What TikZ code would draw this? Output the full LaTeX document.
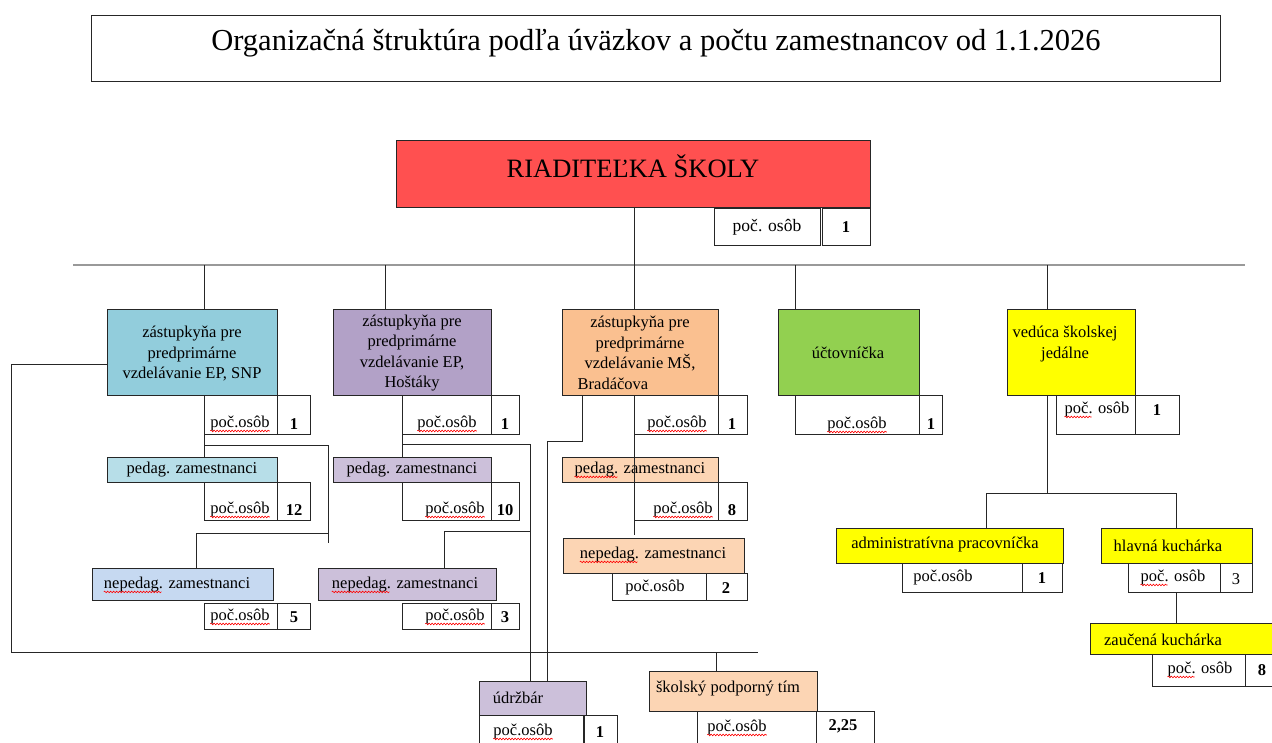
\documentclass[tikz,border=0pt]{standalone}
\usepackage{fontspec}
\setmainfont{Liberation Serif}
\usetikzlibrary{calc,decorations.pathmorphing}
\definecolor{cred}{RGB}{255,80,80}
\definecolor{cblue}{RGB}{146,205,220}
\definecolor{cblueL}{RGB}{183,222,232}
\definecolor{cblueN}{RGB}{198,217,241}
\definecolor{cpur}{RGB}{178,161,199}
\definecolor{cpurL}{RGB}{204,192,218}
\definecolor{cora}{RGB}{250,192,144}
\definecolor{coraL}{RGB}{252,213,180}
\definecolor{cgreen}{RGB}{146,208,80}
\definecolor{cyel}{RGB}{255,255,0}
\tikzset{
 bx/.style={draw=black!85, line width=0.9pt, inner sep=0pt, outer sep=0pt, anchor=north west},
 tx/.style={inner sep=0pt, font=\fontsize{16.5}{20.5}\selectfont, align=center},
 nm/.style={inner sep=0pt, font=\fontsize{16.5}{20}\selectfont\bfseries},
 ln/.style={draw=black!85, line width=0.9pt},
 bus/.style={draw=black!40, line width=1.6pt},
 spell/.style={draw=red, line width=0.6pt, decorate, decoration={snake, amplitude=0.8pt, segment length=3pt}},
}
\newcommand\bx[6]{\node[bx,fill=#6,minimum width=#4pt,minimum height=#5pt] (#1) at (#2,#3) {};}
\newcommand\spw[1]{\draw[spell] ($(#1.base west)+(0,3)$) -- ($(#1.base east)+(0,3)$);}
\newcommand\spp[2]{\draw[spell] ($(#1.base west)+(0,3)$) -- ($(#1.base west)+(#2,3)$);}
\begin{document}
\begin{tikzpicture}[x=1pt,y=-1pt]
\useasboundingbox (0,0) rectangle (1272,743);
\clip (0,0) rectangle (1272,743);
% title
\bx{title}{91}{15}{1129}{66}{white}
\node[inner sep=0pt, font=\fontsize{30.5}{32}\selectfont] (titlet) at (656,43) {Organizačná štruktúra podľa úväzkov a počtu zamestnancov od 1.1.2026};
% director
\bx{dir}{396}{140}{474}{67}{cred}
\node[inner sep=0pt, font=\fontsize{26.5}{28}\selectfont] (dirt) at (633,166) {RIADITEĽKA ŠKOLY};
\bx{dirP}{714}{208}{106}{37}{white}
\bx{dirN}{822}{208}{48}{37}{white}
\node[tx, font=\fontsize{17.5}{20}\selectfont] (dirPt) at (767,227) {poč. osôb};
\node[nm] (dirNt) at (846,227) {1};
% column 1
\bx{b1}{107}{309}{170}{86}{cblue}
\node[tx] (b1t) at (192,354) {zástupkyňa pre\\predprimárne\\vzdelávanie EP, SNP};
\bx{b1P}{204}{395}{73}{39}{white}
\bx{b1N}{277}{395}{33}{39}{white}
\node[tx] (b1Pt) at (240,424) {poč.osôb};
\node[nm] (b1Nt) at (294,424) {1};
\bx{p1}{107}{457}{170}{25}{cblueL}
\node[tx] (p1t) at (192,470) {pedag. zamestnanci};
\bx{p1P}{204}{482}{73}{38}{white}
\bx{p1N}{277}{482}{33}{38}{white}
\node[tx] (p1Pt) at (240,510) {poč.osôb};
\node[nm] (p1Nt) at (294,510) {12};
\bx{n1}{92}{568}{181}{32}{cblueN}
\node[tx] (n1t) at (177,585) {nepedag. zamestnanci};
\bx{n1P}{204}{603}{73}{26}{white}
\bx{n1N}{277}{603}{33}{26}{white}
\node[tx] (n1Pt) at (240,617) {poč.osôb};
\node[nm] (n1Nt) at (294,617) {5};
% column 2
\bx{b2}{333}{309}{158}{86}{cpur}
\node[tx] (b2t) at (412,353) {zástupkyňa pre\\predprimárne\\vzdelávanie EP,\\Hoštáky};
\bx{b2P}{402}{395}{89}{39}{white}
\bx{b2N}{491}{395}{28}{39}{white}
\node[tx] (b2Pt) at (447,424) {poč.osôb};
\node[nm] (b2Nt) at (505,424) {1};
\bx{p2}{333}{457}{158}{25}{cpurL}
\node[tx] (p2t) at (412,470) {pedag. zamestnanci};
\bx{p2P}{402}{482}{89}{38}{white}
\bx{p2N}{491}{482}{28}{38}{white}
\node[tx] (p2Pt) at (455,510) {poč.osôb};
\node[nm] (p2Nt) at (505,510) {10};
\bx{n2}{318}{568}{178}{32}{cpurL}
\node[tx] (n2t) at (405,585) {nepedag. zamestnanci};
\bx{n2P}{402}{603}{89}{26}{white}
\bx{n2N}{491}{603}{28}{26}{white}
\node[tx] (n2Pt) at (455,617) {poč.osôb};
\node[nm] (n2Nt) at (505,617) {3};
% column 3
\bx{b3}{562}{309}{156}{86}{cora}
\node[tx] (b3t) at (640,353) {zástupkyňa pre\\predprimárne\\vzdelávanie MŠ,\\Bradáčova\hspace*{54pt}};
\bx{b3P}{634}{395}{84}{39}{white}
\bx{b3N}{718}{395}{29}{39}{white}
\node[tx] (b3Pt) at (677,424) {poč.osôb};
\node[nm] (b3Nt) at (732,424) {1};
\bx{p3}{562}{457}{156}{25}{coraL}
\node[tx] (p3t) at (640,470) {pedag. zamestnanci};
\bx{p3P}{634}{482}{84}{38}{white}
\bx{p3N}{718}{482}{29}{38}{white}
\node[tx] (p3Pt) at (683,510) {poč.osôb};
\node[nm] (p3Nt) at (732,510) {8};
\bx{n3}{563}{538}{181}{35}{coraL}
\node[tx] (n3t) at (653,555) {nepedag. zamestnanci};
\bx{n3P}{612}{573}{94}{27}{white}
\bx{n3N}{706}{573}{41}{27}{white}
\node[tx] (n3Pt) at (655,588) {poč.osôb};
\node[nm] (n3Nt) at (726,588) {2};
% column 4
\bx{g}{778}{309}{141}{86}{cgreen}
\node[tx] (gt) at (848,353) {účtovníčka};
\bx{gP}{795}{395}{124}{39}{white}
\bx{gN}{919}{395}{23}{39}{white}
\node[tx] (gPt) at (857,425) {poč.osôb};
\node[nm] (gNt) at (931,424) {1};
% column 5
\bx{y}{1007}{309}{128}{86}{cyel}
\node[tx] (yt) at (1065,344) {vedúca školskej\\jedálne};
\bx{yP}{1056}{395}{79}{39}{white}
\bx{yN}{1135}{395}{44}{39}{white}
\node[tx] (yPt) at (1097,410) {poč. osôb};
\node[nm] (yNt) at (1157,410) {1};
\bx{a}{836}{528}{227}{35}{cyel}
\node[tx] (at) at (945,545) {administratívna pracovníčka};
\bx{aP}{902}{563}{120}{29}{white}
\bx{aN}{1022}{563}{40}{29}{white}
\node[tx] (aPt) at (943,578) {poč.osôb};
\node[nm] (aNt) at (1042,578) {1};
\bx{hk}{1101}{528}{151}{35}{cyel}
\node[tx] (hkt) at (1168,546) {hlavná kuchárka};
\bx{hkP}{1128}{563}{92}{29}{white}
\bx{hkN}{1220}{563}{32}{29}{white}
\node[tx] (hkPt) at (1173,578) {poč. osôb};
\node[tx] (hkNt) at (1236,579) {3};
\bx{zk}{1090}{623}{200}{31}{cyel}
\node[tx] (zkt) at (1163,640) {zaučená kuchárka};
\bx{zkP}{1152}{654}{93}{32}{white}
\bx{zkN}{1245}{654}{40}{32}{white}
\node[tx] (zkPt) at (1200,670) {poč. osôb};
\node[nm] (zkNt) at (1262,670) {8};
% bottom
\bx{u}{479}{681}{107}{34}{cpurL}
\node[tx] (ut) at (518,698) {údržbár};
\bx{uP}{479}{715}{104}{40}{white}
\bx{uN}{584}{715}{33}{40}{white}
\node[tx] (uPt) at (523,732) {poč.osôb};
\node[nm] (uNt) at (600,732) {1};
\bx{s}{649}{671}{168}{40}{coraL}
\node[tx] (st) at (728,689) {školský podporný tím};
\bx{sP}{697}{711}{119}{40}{white}
\bx{sN}{816}{711}{58}{40}{white}
\node[tx] (sPt) at (737,728) {poč.osôb};
\node[nm] (sNt) at (843,726) {2,25};
% spell-check underlines
\spw{b1Pt} \spw{p1Pt} \spw{n1Pt} \spw{b2Pt} \spw{p2Pt} \spw{n2Pt}
\spw{b3Pt} \spw{p3Pt} \spw{gPt} \spw{uPt} \spw{sPt}
\spp{n1t}{58} \spp{n2t}{58} \spp{n3t}{58} \spp{p3t}{43}
\spp{yPt}{27} \spp{hkPt}{27} \spp{zkPt}{27}
% coordinates
\coordinate (busW) at (73,265);
\coordinate (busE) at (1245,265);
\coordinate (x2) at (385,0);
\coordinate (x3) at (634,0);
\coordinate (x5) at (1047,0);
\coordinate (k1a) at (204,445);
\coordinate (k1b) at (328,543);
\coordinate (k1c) at (196,0);
\coordinate (k1d) at (328,533);
\coordinate (k1e) at (107,364);
\coordinate (k1f) at (11,652);
\coordinate (k1g) at (758,652);
\coordinate (k2a) at (402,444);
\coordinate (k2b) at (530,0);
\coordinate (k2c) at (444,0);
\coordinate (k2d) at (530,531);
\coordinate (k3a) at (582,0);
\coordinate (k3b) at (547,441);
\coordinate (k4) at (716,0);
\coordinate (k5a) at (1047,493);
\coordinate (k5b) at (986,0);
% connectors
\draw[bus] (busW) -- (busE);
\draw[ln] (dir.south -| x3) -- (b3.north -| x3);
\draw[ln] (busW -| b1P.west) -- (b1.north -| b1P.west);
\draw[ln] (b1.south -| b1P.west) -- (p1.north -| b1P.west);
\draw[ln] (k1a) -| (k1b);
\draw[ln] (n1.north -| k1c) |- (k1d);
\draw[ln] (k1e) -| (k1f) -- (k1g);
\draw[ln] (s.north -| k4) -- (k1g -| k4);
\draw[ln] (busW -| x2) -- (b2.north -| x2);
\draw[ln] (b2P.north west) -- (p2.north -| b2P.west);
\draw[ln] (k2a) -| (u.north -| k2b);
\draw[ln] (n2.north -| k2c) |- (k2d);
\draw[ln] (b3P.north west) -- ($(n3.north -| b3P.west)+(0,-3)$);
\draw[ln] (b3.south -| k3a) |- (k3b) -- (u.north -| k3b);
\draw[ln] (busW -| gP.west) -- (g.north -| gP.west);
\draw[ln] (busW -| x5) -- (y.north -| x5);
\draw[ln] (y.south -| x5) -- (k5a);
\draw[ln] (a.north -| k5b) |- (k5a -| hk.north) -- (hk.north);
\draw[ln] (hkP.south -| hk.north) -- (zk.north -| hk.north);
\end{tikzpicture}
\end{document}
